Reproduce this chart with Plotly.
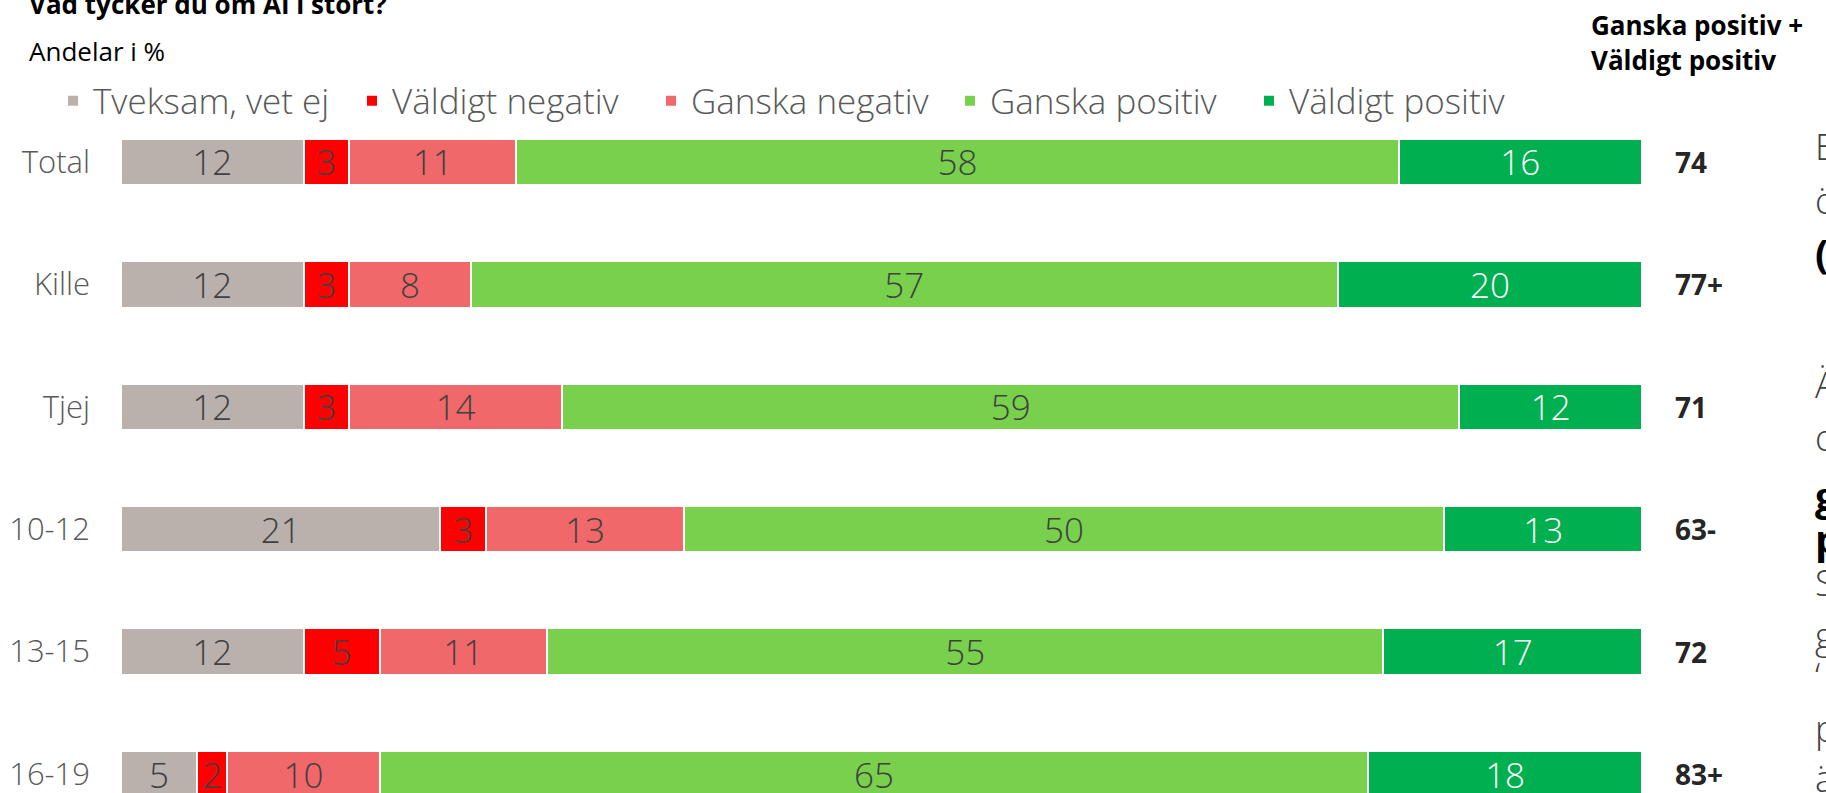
import plotly.graph_objects as go

# ---------------- data ----------------
categories = ["Total", "Kille", "Tjej", "10-12", "13-15", "16-19"]
series_names = ["Tveksam, vet ej", "Väldigt negativ", "Ganska negativ", "Ganska positiv", "Väldigt positiv"]
tveksam = [12, 12, 12, 21, 12, 5]
valdigt_negativ = [3, 3, 3, 3, 5, 2]
ganska_negativ = [11, 8, 14, 13, 11, 10]
ganska_positiv = [58, 57, 59, 50, 55, 65]
valdigt_positiv = [16, 20, 12, 13, 17, 18]
significance = ["", "+", "", "-", "", "+"]

title_text = "Vad tycker du om AI i stort?"
subtitle_text = "Andelar i %"
header_lines = ["Ganska positiv +", "Väldigt positiv"]
# fragments of a neighbouring text box, cut off by the right edge of the picture
side_fragments = [("E", False), ("ö", False), ("(", True), ("Ä", False), ("o", False),
                  ("g", True), ("p", True), ("S", False), ("g", False), ("‘", False),
                  ("p", False), ("ä", False)]
side_fragment_y = [146, 200, 252, 384, 437, 495, 538, 582, 635, 675, 728, 778]

# ---------------- styling ----------------
W, H = 1826, 793
ML, MR, MT, MB = 121, 184, 125, 0
colors = ["#BAB0AC", "#FF0000", "#F0686A", "#78D04D", "#00B050"]
text_colors = ["#404040", "#404040", "#404040", "#404040", "#FFFFFF"]
LIGHT = "Open Sans"
BOLD = "Open Sans"


def px(x):
    return (x - ML) / (W - ML - MR)


def py(y):
    return (H - MB - y) / (H - MT - MB)


series_vals = [tveksam, valdigt_negativ, ganska_negativ, ganska_positiv, valdigt_positiv]

fig = go.Figure()
for name, vals, col, tcol in zip(series_names, series_vals, colors, text_colors):
    fig.add_trace(go.Bar(
        y=categories, x=vals, name=name, orientation="h",
        marker=dict(color=col, line=dict(color="white", width=2)),
        text=[str(v) for v in vals], textposition="inside", insidetextanchor="middle",
        textangle=0, constraintext="none",
        textfont=dict(family=LIGHT, size=35, color=tcol, weight=300),
        width=0.38, hoverinfo="skip",
    ))

annotations = []
# totals of positive answers
for cat, a, b, s in zip(categories, ganska_positiv, valdigt_positiv, significance):
    annotations.append(dict(
        x=px(1673), xref="paper", y=cat, yref="y", xanchor="left", yanchor="middle",
        text=f"{a + b}{s}", showarrow=False,
        font=dict(family=BOLD, size=28, color="#262626", weight=700)))

annotations.append(dict(x=px(27), xref="paper", y=py(4), yref="paper", xanchor="left",
                        yanchor="middle", text=title_text, showarrow=False,
                        font=dict(family=BOLD, size=26, color="#000000", weight=700)))
annotations.append(dict(x=px(27), xref="paper", y=py(51), yref="paper", xanchor="left",
                        yanchor="middle", text=subtitle_text, showarrow=False,
                        font=dict(family=LIGHT, size=26, color="#000000", weight=400)))
for line, yy in zip(header_lines, [25, 60]):
    annotations.append(dict(x=px(1589), xref="paper", y=py(yy), yref="paper", xanchor="left",
                            yanchor="middle", text=line, showarrow=False,
                            font=dict(family=BOLD, size=26, color="#000000", weight=700)))
for (ch, bold), yy in zip(side_fragments, side_fragment_y):
    annotations.append(dict(x=px(1813), xref="paper", y=py(yy), yref="paper", xanchor="left",
                            yanchor="middle", text=ch, showarrow=False,
                            font=dict(family=LIGHT, size=40 if bold else 36,
                                      color="#000000" if bold else "#404040",
                                      weight=700 if bold else 300)))

fig.update_layout(
    width=W, height=H, barmode="stack",
    margin=dict(l=ML, r=MR, t=MT, b=MB, pad=0, autoexpand=False),
    paper_bgcolor="white", plot_bgcolor="white",
    showlegend=True,
    legend=dict(orientation="h", x=px(53), y=py(101), xanchor="left", yanchor="middle",
                font=dict(family=LIGHT, size=35, color="#595959", weight=300),
                entrywidth=254, entrywidthmode="pixels",
                traceorder="normal", bgcolor="rgba(0,0,0,0)"),
    xaxis=dict(range=[0, 100], visible=False, fixedrange=True),
    yaxis=dict(type="category", categoryorder="array", categoryarray=categories,
               range=[5.155, -0.302], showgrid=False, zeroline=False, showline=False,
               ticks="", ticklabelstandoff=30,
               tickfont=dict(family=LIGHT, size=31, color="#595959", weight=300)),
    annotations=annotations,
)

fig.write_html(
    "out.html",
    config={"displayModeBar": False},
    post_script="document.body.style.margin='0';document.body.style.overflow='hidden';",
)
